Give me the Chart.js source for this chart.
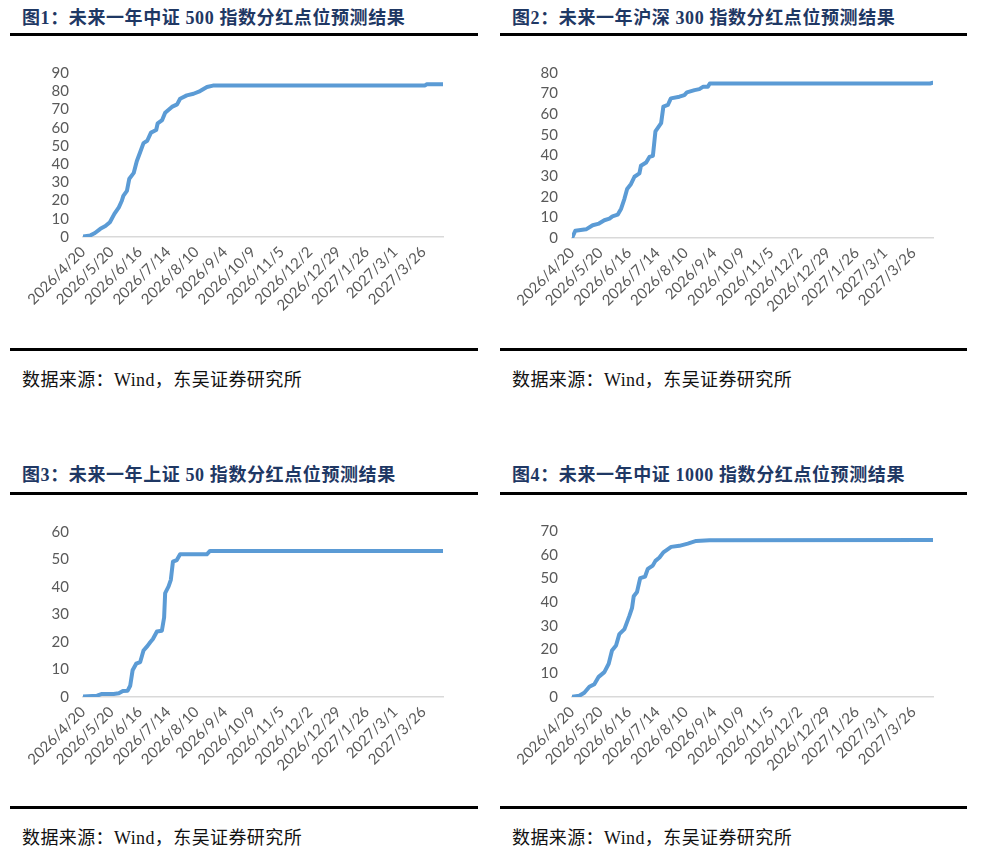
<!DOCTYPE html>
<html>
<head>
<meta charset="utf-8">
<script src="https://cdn.jsdelivr.net/npm/chart.js@4.4.1/dist/chart.umd.min.js"></script>
<style>
  html, body { margin: 0; padding: 0; background: #fff; }
  body { width: 987px; height: 855px; position: relative; overflow: hidden; }
  .title { position: absolute; font-family: "Liberation Serif", "Noto Sans CJK SC", serif; font-weight: bold; font-size: 18px; color: #1f3864; letter-spacing: 0.6px; white-space: nowrap; line-height: 20px; }
  .rule { position: absolute; height: 2.5px; background: #000; }
  .src { position: absolute; font-family: "Liberation Serif", "Noto Sans CJK SC", serif; font-size: 18px; color: #111; letter-spacing: 0.4px; white-space: nowrap; line-height: 20px; }
  .box { position: absolute; width: 470px; height: 290px; }
</style>
</head>
<body>
<div class="title" style="left:22px; top:8px;">图1：未来一年中证 500 指数分红点位预测结果</div>
<div class="rule" style="left:10px; width:468px; top:33px;"></div>
<div class="box" style="left:10px; top:50px;"><canvas id="c1"></canvas></div>
<div class="rule" style="left:10px; width:468px; top:348px;"></div>
<div class="src" style="left:22px; top:370px;">数据来源：Wind，东吴证券研究所</div>

<div class="title" style="left:512px; top:8px;">图2：未来一年沪深 300 指数分红点位预测结果</div>
<div class="rule" style="left:500px; width:467px; top:33px;"></div>
<div class="box" style="left:500px; top:50px;"><canvas id="c2"></canvas></div>
<div class="rule" style="left:500px; width:467px; top:348px;"></div>
<div class="src" style="left:512px; top:370px;">数据来源：Wind，东吴证券研究所</div>

<div class="title" style="left:22px; top:465px;">图3：未来一年上证 50 指数分红点位预测结果</div>
<div class="rule" style="left:10px; width:468px; top:492px;"></div>
<div class="box" style="left:10px; top:509px;"><canvas id="c3"></canvas></div>
<div class="rule" style="left:10px; width:468px; top:806px;"></div>
<div class="src" style="left:22px; top:828px;">数据来源：Wind，东吴证券研究所</div>

<div class="title" style="left:512px; top:465px;">图4：未来一年中证 1000 指数分红点位预测结果</div>
<div class="rule" style="left:500px; width:467px; top:492px;"></div>
<div class="box" style="left:500px; top:508px;"><canvas id="c4"></canvas></div>
<div class="rule" style="left:500px; width:467px; top:806px;"></div>
<div class="src" style="left:512px; top:828px;">数据来源：Wind，东吴证券研究所</div>

<script>
// x tick labels (one every 19 trading days)
const tickLabels = ["2026/4/20","2026/5/20","2026/6/16","2026/7/14","2026/8/10","2026/9/4","2026/10/9","2026/11/5","2026/12/2","2026/12/29","2027/1/26","2027/3/1","2027/3/26"];
const tickEvery = 19;
const lastDay = 241;

// 中证500: trading-day index and dividend points
const csi500Day = [0,5,8,11.6,15,18,21,24,26,27,29.4,31,34,36,38,40.5,43,45.5,49,50,53,55,59.5,63,65,69.5,74,78.4,83,87,229,230,241];
const csi500Val = [0.2,0.9,2.2,4.5,6,8.1,12.7,16.3,19.9,22.6,25.3,32,35.2,41.6,46,51.5,52.8,57.3,58.7,62.4,64.2,68.2,71.4,72.8,75.9,77.7,78.6,80.1,82.3,83.1,83.2,83.8,83.8];

// 沪深300
const hs300Day = [0,2.2,9.4,13.8,18,21.6,25,27,30.5,32.8,35,36.8,39.4,41.7,45,46,49.5,51.7,54,55.7,59.5,61,64,66,71.7,75,76.7,81.8,85,87.4,90.7,92,239,241];
const hs300Val = [0,3.5,4.2,6.2,7,8.6,9.4,10.5,11.3,14.2,19,23.8,26.2,29.7,31.3,35,36.6,39.3,39.8,51.7,55.7,63.7,64.5,67.7,68.5,69.3,70.6,71.7,72.2,73.3,73.3,74.9,74.9,75.3];

// 上证50
const sz50Day = [0,9.4,12.7,20.5,24,26.7,29.9,31.6,33.2,35.6,38.3,40.5,43.2,45,46.8,49.5,52.8,54.3,55,57.3,58.8,60.2,62.8,65,82.9,85,241];
const sz50Val = [0.2,0.5,1.1,1.1,1.4,2.2,2.3,4.1,9.7,12.1,12.7,16.9,18.6,19.9,21.1,23.8,24.1,28.9,37.8,40.2,42.6,49.2,49.8,51.9,51.9,53.1,53.1];

// 中证1000
const csi1000Day = [0,4.9,8.2,11.6,14.9,17.8,21.6,24.5,26.7,29.4,31.6,35,38.3,40.1,41.2,43.4,45.5,48.8,50.6,53.9,55.7,58.4,61,66.2,71.7,77.3,82.9,91.8,241];
const csi1000Val = [0.1,0.5,1.8,4.3,5.4,8.5,10.5,14,19.6,21.7,26.5,28.6,34.2,37.6,42.5,44.3,50.1,50.8,54,55.4,57.4,58.8,61,63.3,63.75,64.7,65.8,66.1,66.2];

// y axis maxima
const yMax = [90, 80, 60, 70];

function makeChart(id, days, vals, ymax, yAxisW, plotH) {
  const pts = days.map((d, i) => ({x: d, y: vals[i]}));
  new Chart(document.getElementById(id), {
    type: 'line',
    data: { datasets: [{ data: pts, borderColor: '#5B9BD5', borderWidth: 4, pointRadius: 0, tension: 0, borderJoinStyle: 'round', borderCapStyle: 'round', fill: false }] },
    options: {
      responsive: true, maintainAspectRatio: false, animation: false,
      layout: { padding: { left: 0, right: 37, top: 21, bottom: 0 } },
      plugins: { legend: { display: false }, tooltip: { enabled: false } },
      scales: {
        x: {
          type: 'linear', min: 0, max: lastDay,
          grid: { display: false, drawTicks: false },
          border: { display: true, color: '#d9d9d9', width: 1.5 },
          afterBuildTicks: (s) => { s.ticks = tickLabels.map((_, i) => ({ value: i * tickEvery })); },
          afterFit: (s) => { s.height = 290 - 21 - plotH; },
          ticks: {
            autoSkip: false, maxRotation: 45, minRotation: 45, padding: 6,
            color: '#595959', font: { family: 'Lato', size: 15 },
            callback: (v) => tickLabels[Math.round(v / tickEvery)]
          }
        },
        y: {
          min: 0, max: ymax,
          grid: { display: false, drawTicks: false },
          border: { display: false },
          afterFit: (s) => { s.width = yAxisW; },
          ticks: { autoSkip: false, stepSize: 10, padding: 14, color: '#595959', font: { family: 'Lato', size: 15 } }
        }
      }
    }
  });
}

makeChart('c1', csi500Day, csi500Val, yMax[0], 73, 166);
makeChart('c2', hs300Day, hs300Val, yMax[1], 72, 167);
makeChart('c3', sz50Day, sz50Val, yMax[2], 73, 167);
makeChart('c4', csi1000Day, csi1000Val, yMax[3], 72, 168);
</script>
</body>
</html>
